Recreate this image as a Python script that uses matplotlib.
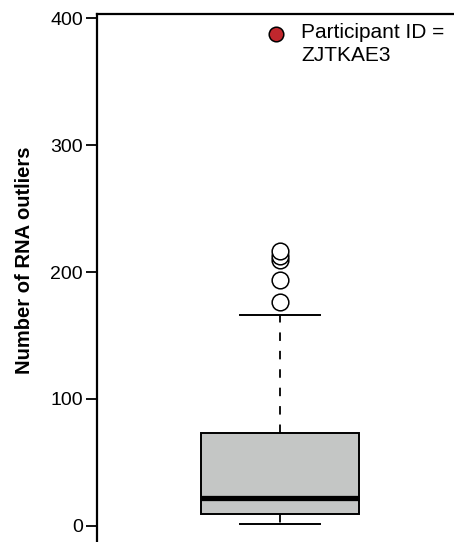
import matplotlib
matplotlib.use("Agg")
import matplotlib.pyplot as plt
from matplotlib.lines import Line2D

plt.rcParams['font.family'] = ['Liberation Sans', 'DejaVu Sans']

# box summary
q1, median, q3 = 9.2, 22.1, 73.3
whisker_low, whisker_high = 1.1, 166.2
outliers = [176.5, 194.0, 209.5, 212.5, 216.5]
yticks = [0, 100, 200, 300, 400]
legend_label = "Participant ID =\nZJTKAE3"

fig = plt.figure(figsize=(4.54, 5.42), dpi=100)
# axes run past the bottom/right of the canvas like the cropped original
ax = fig.add_axes([97/454, -20/542, 403/454, 548/542])

stats = [dict(med=median, q1=q1, q3=q3, whislo=whisker_low, whishi=whisker_high,
              fliers=outliers)]
ax.bxp(stats, positions=[1], widths=0.434, capwidths=0.219, patch_artist=True,
       boxprops=dict(facecolor='#C4C6C5', edgecolor='black', linewidth=1.4),
       medianprops=dict(color='black', linewidth=3.8, solid_capstyle='butt'),
       whiskerprops=dict(color='black', linewidth=1.3, linestyle=(0, (4.7, 5.5))),
       capprops=dict(color='black', linewidth=1.4),
       flierprops=dict(marker='o', markersize=12, markerfacecolor='white',
                       markeredgecolor='black', markeredgewidth=1.1))

ax.set_xlim(0.5, 1.601)
ax.set_ylim(-28.6, 403.5)
ax.set_yticks(yticks)
ax.set_xticks([])
ax.tick_params(axis='y', length=8, width=1.3, labelsize=14, pad=2)
for side in ['left', 'top']:
    ax.spines[side].set_linewidth(1.6)
ax.spines['right'].set_visible(False)
ax.spines['bottom'].set_visible(False)

ax.set_ylabel("Number of RNA outliers", fontsize=14.5, fontweight='bold')
ax.yaxis.set_label_coords(-63/403, (562 - 260)/548)

# legend entry: red dot next to the first line of the label
fig.add_artist(Line2D([276/454], [1 - 34/542], transform=fig.transFigure,
                      marker='o', linestyle='', markersize=10.5,
                      markerfacecolor='#C1272D', markeredgecolor='black',
                      markeredgewidth=1.1))
fig.text(301/454, 1 - 23/542, legend_label, fontsize=15, va='top', ha='left',
         linespacing=1.25)

fig.savefig("out.png", dpi=100)
